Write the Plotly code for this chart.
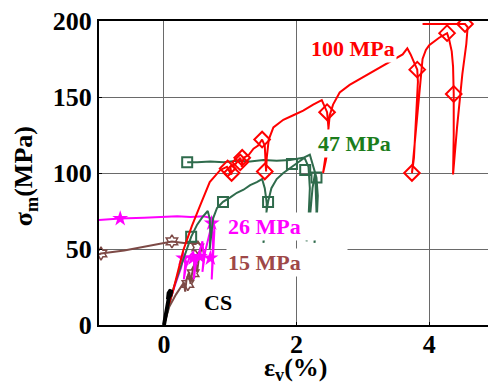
import plotly.graph_objects as go

# ---- data ----
red_x = [0.05, 0.14, 0.29, 0.42, 0.54, 0.69, 0.85, 0.95, 1.0, 1.02, 1.0, 1.08, 1.15, 1.18, 1.17, 1.2, 1.28, 1.35, 1.42, 1.48,
         1.52, 1.53, 1.54, 1.55, 1.58, 1.65, 1.8, 1.95, 2.1, 2.25, 2.38, 2.42, 2.46, 2.48, 2.47, 2.44, 2.4, 2.45, 2.48, 2.5,
         2.55, 2.65, 2.8, 3.0, 3.2, 3.4, 3.6, 3.67, 3.72, 3.78, 3.82, 3.83, 3.8, 3.77, 3.74, 3.8, 3.86, 3.9, 3.95, 4.0,
         4.15, 4.27, 4.3, 4.34, 4.36, 4.37, 4.37, 4.36, 4.42, 4.5, 4.56, 4.58, 4.54, 3.9]
red_y = [10, 23, 49, 65, 78, 94, 102, 104, 100, 99, 104, 106, 110, 106, 104, 110, 112, 116, 118, 122,
         118, 110, 101, 110, 122, 130, 135, 138, 141, 145, 148, 144, 140, 130, 115, 108, 100, 115, 130, 138,
         145, 153, 158, 163, 168, 173, 178, 182, 178, 172, 168, 160, 130, 110, 100, 130, 160, 175, 181, 184,
         189, 192, 188, 180, 170, 152, 125, 99, 130, 165, 185, 196, 198, 198]
red_mx = [0.96, 1.02, 1.15, 1.18, 1.48, 1.52, 2.46, 3.82, 3.74, 4.27, 4.37, 4.54]
red_my = [103, 100, 107, 110, 122, 101, 140, 168, 100, 192, 152, 198]

green_x = [0.0, 0.06, 0.15, 0.25, 0.33, 0.41, 0.5, 0.58, 0.66, 0.69, 0.7, 0.69, 0.71, 0.74, 0.8, 0.89, 1.0, 1.1, 1.2, 1.3,
           1.4, 1.48, 1.52, 1.55, 1.54, 1.5, 1.53, 1.57, 1.62, 1.7, 1.8, 1.9, 2.0, 2.05, 2.12, 2.18, 2.2, 2.18, 2.15, 2.2,
           2.24, 2.28, 2.3, 2.32, 2.3, 2.27, 2.3, 2.28, 2.22, 2.2, 2.1, 1.9, 1.7, 1.5, 1.3, 1.1, 0.9, 0.7, 0.5, 0.35]
green_y = [0, 10, 25, 38, 48, 58, 66, 71, 75, 70, 60, 50, 58, 70, 77, 81, 84, 87, 89, 92,
           94, 96, 90, 80, 65, 54, 70, 81, 90, 96, 100, 103, 106, 108, 110, 104, 90, 70, 55, 70,
           90, 100, 97, 85, 65, 54, 75, 100, 108, 112, 110, 108.5, 108, 108.5, 107.5, 108, 107, 107.5, 107, 107]
green_mx = [0.35, 0.41, 0.89, 1.57, 1.93, 2.13, 2.3]
green_my = [107, 58, 81, 81, 106, 102, 97]

mag_x = [0.0, 0.08, 0.18, 0.26, 0.3, 0.32, 0.3, 0.33, 0.4, 0.44, 0.46, 0.45, 0.48, 0.54, 0.58, 0.6, 0.58, 0.62, 0.68, 0.72,
         0.74, 0.73, 0.72, 0.74, 0.76, 0.74, 0.6, 0.4, 0.2, 0.0, -0.3, -0.66, -1.0]
mag_y = [0, 15, 28, 38, 46, 40, 30, 38, 46, 48, 38, 30, 40, 50, 55, 45, 35, 48, 58, 66,
         55, 42, 30, 45, 62, 70, 71.5, 71, 71.5, 71, 70.5, 70, 69]
mag_mx = [-0.66, 0.29, 0.44, 0.54, 0.7, 0.72]
mag_my = [70, 44, 44, 45, 44, 67]

brown_x = [0.0, 0.08, 0.18, 0.25, 0.3, 0.32, 0.34, 0.38, 0.4, 0.42, 0.46, 0.48, 0.5, 0.52, 0.55, 0.56, 0.52, 0.3, 0.12, 0.0,
           -0.3, -0.6, -0.95, -1.0]
brown_y = [0, 12, 20, 25, 28, 22, 30, 35, 27, 33, 40, 45, 35, 42, 48, 52, 54, 54, 55, 54,
           51, 49, 47, 46]
brown_mx = [-0.95, 0.12, 0.51, 0.44, 0.36]
brown_my = [47, 55, 51, 34, 27]

cs_x = [0.0, 0.03, 0.06, 0.09, 0.11, 0.1, 0.06, 0.07, 0.1]
cs_y = [0, 8, 15, 22, 23, 20, 17, 21, 23]

labels = ["100 MPa", "47 MPa", "26 MPa", "15 MPa", "CS"]
label_x = [2.85, 2.88, 0.93, 0.93, 0.81]
label_y = [182, 119.6, 65, 41.4, 14.5]

x_ticks = [0, 2, 4]
y_ticks = [0, 50, 100, 150, 200]

# ---- figure ----
RED = "#ff0000"
GREEN = "#2f6b4c"
MAG = "#ff00ff"
BROWN = "#7d4a46"
SERIF = "Liberation Serif, Times New Roman, serif"

fig = go.Figure()
fig.add_trace(go.Scatter(x=brown_x, y=brown_y, mode="lines", line=dict(color=BROWN, width=2)))
fig.add_trace(go.Scatter(x=brown_mx, y=brown_my, mode="markers",
                         marker=dict(symbol="hexagram-open", size=10, color=BROWN, line=dict(width=1.5))))
fig.add_trace(go.Scatter(x=mag_x, y=mag_y, mode="lines", line=dict(color=MAG, width=2)))
fig.add_trace(go.Scatter(x=mag_mx, y=mag_my, mode="markers",
                         marker=dict(symbol="star", size=12, color=MAG)))
fig.add_trace(go.Scatter(x=green_x, y=green_y, mode="lines", line=dict(color=GREEN, width=2)))
fig.add_trace(go.Scatter(x=green_mx, y=green_my, mode="markers",
                         marker=dict(symbol="square-open", size=10, color=GREEN, line=dict(width=2))))
fig.add_trace(go.Scatter(x=red_x, y=red_y, mode="lines", line=dict(color=RED, width=2)))
fig.add_trace(go.Scatter(x=red_mx, y=red_my, mode="markers",
                         marker=dict(symbol="diamond-open", size=12, color=RED, line=dict(width=2))))
fig.add_trace(go.Scatter(x=cs_x, y=cs_y, mode="lines", line=dict(color="black", width=4)))

label_colors = [RED, "#1b7d1b", MAG, "#9e4848", "black"]
for i, t in enumerate(labels):
    xa = "left" if t in ("26 MPa", "15 MPa") else "center"
    fig.add_annotation(x=label_x[i], y=label_y[i], text="<b>%s</b>" % t, showarrow=False,
                       xanchor=xa, yanchor="middle",
                       width=118 if xa == "left" else None, align="left",
                       font=dict(family=SERIF, size=22, color=label_colors[i]),
                       bgcolor="white" if t != "CS" else "rgba(0,0,0,0)", borderpad=1)

fig.add_annotation(xref="paper", yref="paper", x=0.506, y=-0.145, text="<b>ε<sub>v</sub>(%)</b>",
                   showarrow=False, xanchor="center", yanchor="middle",
                   font=dict(family=SERIF, size=26, color="black"))
fig.add_annotation(xref="paper", yref="paper", x=-0.19, y=0.49, text="<b>σ<sub>m</sub>(MPa)</b>",
                   showarrow=False, xanchor="center", yanchor="middle", textangle=-90,
                   font=dict(family=SERIF, size=26, color="black"))

fig.update_layout(
    width=488, height=389, margin=dict(l=99, r=0, t=21, b=64),
    plot_bgcolor="white", paper_bgcolor="white", showlegend=False,
    font=dict(family=SERIF, size=26, color="black"),
)
fig.update_xaxes(range=[-0.98, 4.887], tickvals=x_ticks, ticktext=["<b>%d</b>" % v for v in x_ticks],
                 showgrid=True, gridcolor="#6a6a6a", gridwidth=1, zeroline=False,
                 showline=True, linecolor="black", linewidth=2, mirror=True,
                 ticks="inside", ticklen=3, tickcolor="black", automargin=False,
                 ticklabelstandoff=-5)
fig.update_yaxes(range=[0, 200], tickvals=y_ticks, ticktext=["<b>%d</b>" % v for v in y_ticks],
                 showgrid=True, gridcolor="#6a6a6a", gridwidth=1, zeroline=False,
                 showline=True, linecolor="black", linewidth=2, mirror=False,
                 ticks="inside", ticklen=3, tickcolor="black", automargin=False)

fig.write_html("out.html", config={"displayModeBar": False},
               post_script="document.body.style.margin='0';document.body.style.overflow='hidden';")
